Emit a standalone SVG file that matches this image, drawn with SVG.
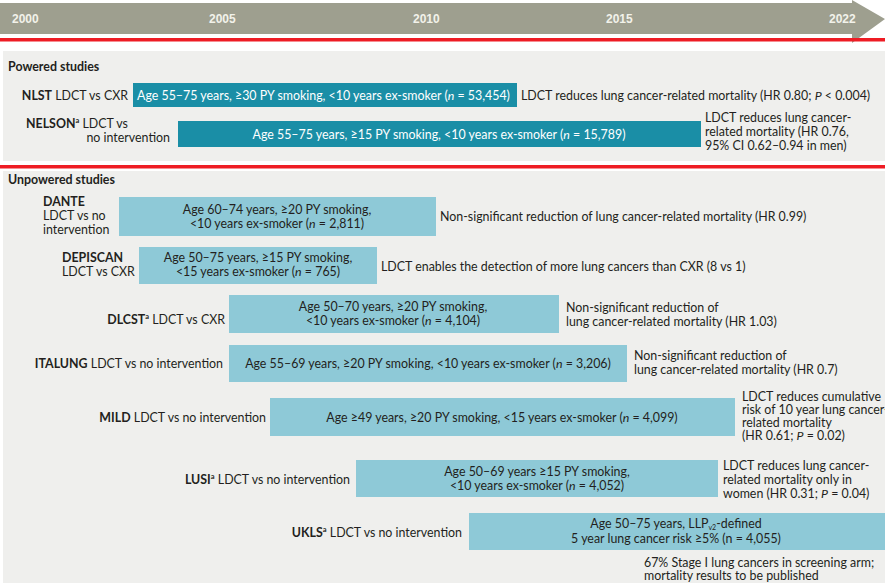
<svg xmlns="http://www.w3.org/2000/svg" width="885" height="583" viewBox="0 0 885 583">
<style>
.t{font-family:Lato,"Noto Sans","Liberation Sans",sans-serif;font-size:12.4px;fill:#231f20}
.b{font-weight:bold}
.w{fill:#ffffff}
.c{text-anchor:middle}
.r{text-anchor:end}
.yr{font-family:"Liberation Sans Narrow","Liberation Sans",sans-serif;font-size:12px;font-weight:bold;fill:#f2f2ea}
.dark{fill:#1a8ea6}
.light{fill:#8ec9d7}
.sup{font-size:7.5px;font-weight:bold}
.i{font-style:italic}
</style>
<rect x="0" y="0" width="885" height="583" fill="#ffffff"/>
<g id="timeline">
<polygon points="0,3 852,3 852,0 885,19 852,43 852,34 0,34" fill="#9e9f8f"/>
<text class="yr" x="12" y="23">2000</text>
<text class="yr" x="209" y="23">2005</text>
<text class="yr" x="413" y="23">2010</text>
<text class="yr" x="606" y="23">2015</text>
<text class="yr" x="829" y="23">2022</text>
</g>
<rect x="0" y="38" width="885" height="3.5" fill="#ee1c24"/>
<rect x="3" y="51" width="882" height="110" fill="#efefed"/>
<rect x="0" y="165" width="885" height="3.5" fill="#ee1c24"/>
<rect x="3" y="171" width="882" height="412" fill="#efefed"/>
<text class="t b" x="8" y="71">Powered studies</text>
<text class="t b" x="8" y="184">Unpowered studies</text>
<g id="nlst">
<text class="t r" x="128" y="100"><tspan class="b">NLST</tspan> LDCT vs CXR</text>
<rect class="dark" x="133" y="83" width="384" height="24"/>
<text class="t w" x="137" y="100">Age 55–75 years, ≥30 PY smoking, &lt;10 years ex-smoker (<tspan class="i">n</tspan> = 53,454)</text>
<text class="t" x="521" y="100">LDCT reduces lung cancer-related mortality (HR 0.80; <tspan class="i">P</tspan> &lt; 0.004)</text>
</g>
<g id="nelson">
<text class="t r" x="128" y="128"><tspan class="b">NELSON</tspan><tspan class="sup" dy="-5">a</tspan><tspan dy="5"> LDCT vs</tspan></text>
<text class="t r" x="170" y="142">no intervention</text>
<rect class="dark" x="178" y="121" width="523" height="26"/>
<text class="t w c" x="439" y="139">Age 55–75 years, ≥15 PY smoking, &lt;10 years ex-smoker (<tspan class="i">n</tspan> = 15,789)</text>
<text class="t" x="705" y="122">LDCT reduces lung cancer-</text>
<text class="t" x="705" y="136">related mortality (HR 0.76,</text>
<text class="t" x="705" y="150">95% CI 0.62–0.94 in men)</text>
</g>
<g id="dante">
<text class="t b" x="43" y="206">DANTE</text>
<text class="t" x="43" y="220">LDCT vs no</text>
<text class="t" x="43" y="234">intervention</text>
<rect class="light" x="119" y="197" width="317" height="39"/>
<text class="t c" x="277" y="214">Age 60–74 years, ≥20 PY smoking,</text>
<text class="t c" x="277" y="228">&lt;10 years ex-smoker (<tspan class="i">n</tspan> = 2,811)</text>
<text class="t" x="440" y="221">Non-significant reduction of lung cancer-related mortality (HR 0.99)</text>
</g>
<g id="depiscan">
<text class="t b" x="62" y="262">DEPISCAN</text>
<text class="t" x="62" y="276">LDCT vs CXR</text>
<rect class="light" x="139" y="247" width="238" height="37"/>
<text class="t c" x="258" y="262">Age 50–75 years, ≥15 PY smoking,</text>
<text class="t c" x="258" y="276">&lt;15 years ex-smoker (<tspan class="i">n</tspan> = 765)</text>
<text class="t" x="381" y="271">LDCT enables the detection of more lung cancers than CXR (8 vs 1)</text>
</g>
<g id="dlcst">
<text class="t r" x="225" y="324"><tspan class="b">DLCST</tspan><tspan class="sup" dy="-5">a</tspan><tspan dy="5"> LDCT vs CXR</tspan></text>
<rect class="light" x="229" y="295" width="330" height="38"/>
<text class="t c" x="393" y="311">Age 50–70 years, ≥20 PY smoking,</text>
<text class="t c" x="393" y="325">&lt;10 years ex-smoker (<tspan class="i">n</tspan> = 4,104)</text>
<text class="t" x="566" y="312">Non-significant reduction of</text>
<text class="t" x="566" y="326">lung cancer-related mortality (HR 1.03)</text>
</g>
<g id="italung">
<text class="t r" x="223" y="368"><tspan class="b">ITALUNG</tspan> LDCT vs no intervention</text>
<rect class="light" x="229" y="345" width="398" height="37"/>
<text class="t c" x="428" y="368">Age 55–69 years, ≥20 PY smoking, &lt;10 years ex-smoker (<tspan class="i">n</tspan> = 3,206)</text>
<text class="t" x="634" y="360">Non-significant reduction of</text>
<text class="t" x="634" y="374">lung cancer-related mortality (HR 0.7)</text>
</g>
<g id="mild">
<text class="t r" x="266" y="422"><tspan class="b">MILD</tspan> LDCT vs no intervention</text>
<rect class="light" x="270" y="398" width="465" height="38"/>
<text class="t c" x="502" y="422">Age ≥49 years, ≥20 PY smoking, &lt;15 years ex-smoker (<tspan class="i">n</tspan> = 4,099)</text>
<text class="t" x="742" y="401">LDCT reduces cumulative</text>
<text class="t" x="742" y="414">risk of 10 year lung cancer-</text>
<text class="t" x="742" y="427">related mortality</text>
<text class="t" x="742" y="440">(HR 0.61; <tspan class="i">P</tspan> = 0.02)</text>
</g>
<g id="lusi">
<text class="t r" x="350" y="484"><tspan class="b">LUSI</tspan><tspan class="sup" dy="-5">a</tspan><tspan dy="5"> LDCT vs no intervention</tspan></text>
<rect class="light" x="356" y="460" width="362" height="37"/>
<text class="t c" x="537" y="476">Age 50–69 years ≥15 PY smoking,</text>
<text class="t c" x="537" y="490">&lt;10 years ex-smoker (<tspan class="i">n</tspan> = 4,052)</text>
<text class="t" x="723" y="470">LDCT reduces lung cancer-</text>
<text class="t" x="723" y="484">related mortality only in</text>
<text class="t" x="723" y="498">women (HR 0.31; <tspan class="i">P</tspan> = 0.04)</text>
</g>
<g id="ukls">
<text class="t r" x="462" y="537"><tspan class="b">UKLS</tspan><tspan class="sup" dy="-5">a</tspan><tspan dy="5"> LDCT vs no intervention</tspan></text>
<rect class="light" x="469" y="513" width="416" height="37"/>
<text class="t c" x="676" y="528">Age 50–75 years, LLP<tspan font-size="7" dy="2">v2</tspan><tspan dy="-2">-defined</tspan></text>
<text class="t c" x="676" y="543">5 year lung cancer risk ≥5% (n = 4,055)</text>
<text class="t" x="644" y="567">67% Stage I lung cancers in screening arm;</text>
<text class="t" x="644" y="580">mortality results to be published</text>
</g>
</svg>
